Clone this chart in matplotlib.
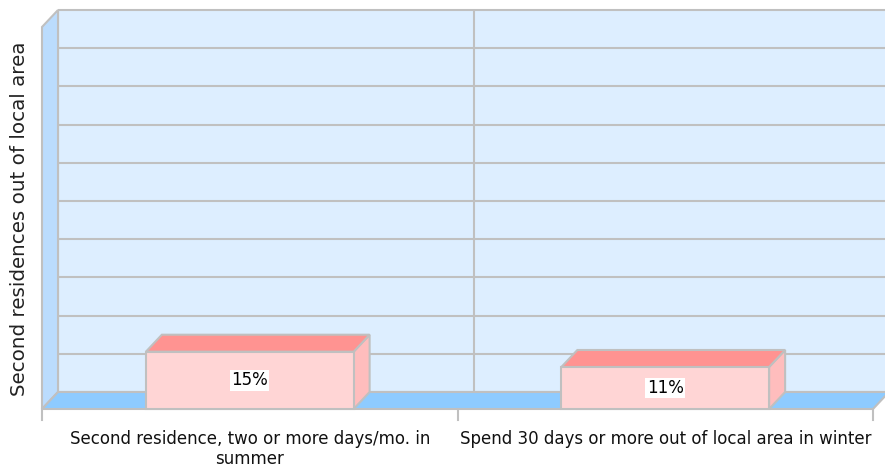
import matplotlib
matplotlib.use("Agg")
import matplotlib.pyplot as plt
from matplotlib.patches import Polygon, Rectangle
from matplotlib.lines import Line2D
from matplotlib.transforms import Affine2D, IdentityTransform

plt.rcParams['font.family'] = ['DejaVu Sans']

categories = ["Second residence, two or more days/mo. in\nsummer",
              "Spend 30 days or more out of local area in winter"]
values = [15, 11]
value_labels = ["15%", "11%"]
y_max = 100
grid_step = 10
y_title = "Second residences out of local area"

W, H, DPI = 885, 467, 100
DEPTH_X, DEPTH_Y = 16, 17          # depth offset of the back plane, in pixels
EDGE = "#c0c0c0"

fig = plt.figure(figsize=(W / DPI, H / DPI), dpi=DPI)
ax = fig.add_axes([42 / W, (H - 409) / H, (873 - 42) / W, (409 - 27) / H])
ax.set_xlim(-0.5, len(categories) - 0.5)
ax.set_ylim(0, y_max)
ax.axis("off")

back = ax.transData + Affine2D().translate(DEPTH_X, DEPTH_Y)
ident = IdentityTransform()


def disp(x, y, far=False):
    px, py = ax.transData.transform((x, y))
    if far:
        px += DEPTH_X
        py += DEPTH_Y
    return (px, py)


def poly(points, fc, z, ec=EDGE, lw=1.5):
    p = Polygon(points, closed=True, facecolor=fc, edgecolor=ec, lw=lw,
                transform=ident, clip_on=False, zorder=z, joinstyle="miter")
    ax.add_patch(p)
    return p


x0, x1 = -0.5, len(categories) - 0.5

# back wall
ax.add_patch(Rectangle((x0, 0), x1 - x0, y_max, transform=back,
                       facecolor="#ddeeff", edgecolor="none", clip_on=False, zorder=1))
# horizontal gridlines on the back wall
for g in range(0, y_max + 1, grid_step):
    ax.plot([x0, x1], [g, g], color=EDGE, lw=1.5, transform=back,
            clip_on=False, zorder=2, solid_capstyle="butt")
# vertical separators on the back wall
for i in range(len(categories) + 1):
    ax.plot([x0 + i, x0 + i], [0, y_max], color=EDGE, lw=1.5, transform=back,
            clip_on=False, zorder=2, solid_capstyle="butt")

# left side wall
poly([disp(x0, 0), disp(x0, y_max), disp(x0, y_max, True), disp(x0, 0, True)],
     "#bbdcfd", 3)
# floor
poly([disp(x0, 0), disp(x1, 0), disp(x1, 0, True), disp(x0, 0, True)],
     "#8ecbff", 3)

# category ticks below the floor edge
for i in range(len(categories) + 1):
    px, py = disp(x0 + i, 0)
    ax.add_line(Line2D([px, px], [py, py - 11], color=EDGE, lw=1.5,
                       transform=ident, clip_on=False, zorder=3))

# 3D bars
bar_w = 0.5
for i, v in enumerate(values):
    l, r = i - bar_w / 2, i + bar_w / 2
    poly([disp(r, 0), disp(r, v), disp(r, v, True), disp(r, 0, True)], "#ffbdbd", 5)
    poly([disp(l, v), disp(r, v), disp(r, v, True), disp(l, v, True)], "#ff9391", 5)
    poly([disp(l, 0), disp(r, 0), disp(r, v), disp(l, v)], "#ffd5d5", 6)
    ax.text(i, v / 2, value_labels[i], ha="center", va="center", fontsize=12,
            color="black", zorder=8, clip_on=False,
            bbox=dict(facecolor="white", edgecolor="none", pad=1.0))

# category labels
for i, c in enumerate(categories):
    ax.text(i, -5.6, c, ha="center", va="top", fontsize=12, color="#111111",
            linespacing=1.08, clip_on=False)

fig.text(20 / W, 1 - 219 / H, y_title, rotation=90, ha="center", va="center",
         fontsize=14.3, color="#222222")

fig.savefig("out.png", dpi=DPI)
